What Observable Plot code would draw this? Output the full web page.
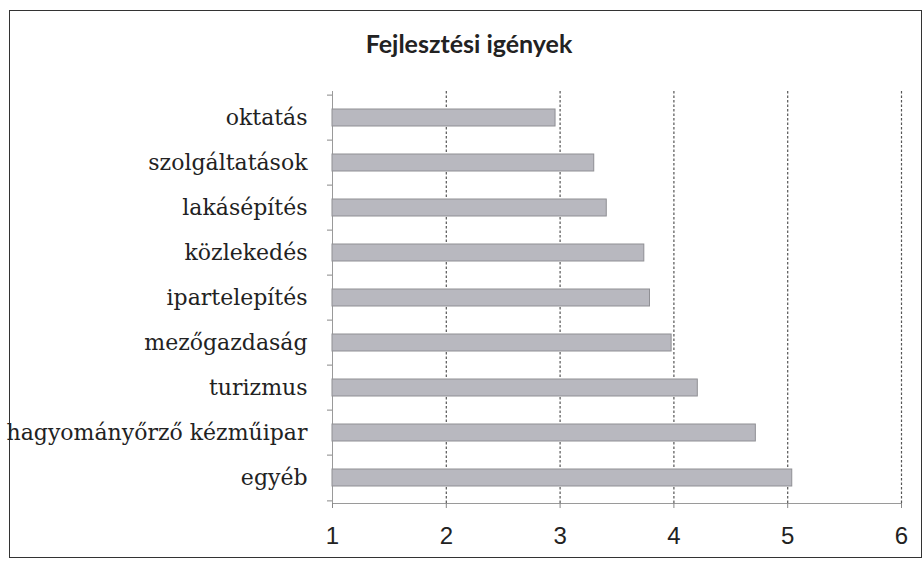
<!DOCTYPE html>
<html><head><meta charset="utf-8">
<script src="https://cdn.jsdelivr.net/npm/d3@7"></script>
<script src="https://cdn.jsdelivr.net/npm/@observablehq/plot@0.6"></script>
<style>
body{margin:0;background:#fff;}
#wrap{position:relative;width:923px;height:567px;overflow:hidden;background:#fff;}
#frame{position:absolute;left:9px;top:10px;width:913px;height:548px;border:1.5px solid #333;box-sizing:border-box;}
#title{position:absolute;left:0;width:938px;top:28px;text-align:center;font-family:Lato,"Open Sans",sans-serif;font-weight:bold;font-size:25px;color:#222;}
#chart{position:absolute;left:0;top:0;}
#chart g[aria-label="x-axis tick label"], #chart g[aria-label="x-axis tick label"] text{font-family:"Liberation Sans",sans-serif !important;font-size:24px !important;}
#chart g[aria-label="y-axis tick label"], #chart g[aria-label="y-axis tick label"] text{font-family:"DejaVu Serif",serif !important;font-size:22px !important;}
</style></head>
<body>
<div id="wrap">
  <div id="frame"></div>
  <div id="title">Fejlesztési igények</div>
  <div id="chart"></div>
</div>
<script>
const categories = ["oktatás","szolgáltatások","lakásépítés","közlekedés","ipartelepítés","mezőgazdaság","turizmus","hagyományőrző kézműipar","egyéb"];
const values = [2.96, 3.30, 3.41, 3.74, 3.79, 3.98, 4.21, 4.72, 5.04];
const xTicks = [1, 2, 3, 4, 5, 6];
const gridTicks = [2, 3, 4, 5, 6];
const xMin = 1;

const data = categories.map((c, i) => ({cat: c, value: values[i]}));
const mTop = 91, mBottom = 64;
const H = 567;
const step = (H - mTop - mBottom) / categories.length;

const chart = Plot.plot({
  width: 923, height: H,
  marginLeft: 332, marginRight: 22, marginTop: mTop, marginBottom: mBottom,
  style: {background: "transparent"},
  x: {domain: [1, 6], axis: null},
  y: {domain: categories, paddingInner: 0.63, paddingOuter: 0.315, axis: null},
  marks: [
    Plot.ruleX(gridTicks, {stroke: "#555", strokeDasharray: "2.5,2", strokeWidth: 1.2}),
    Plot.ruleX([xMin], {stroke: "#9a9a9a"}),
    Plot.frame({anchor: "bottom", stroke: "#9a9a9a"}),
    Plot.barX(data, {x1: xMin, x2: "value", y: "cat", fill: "#b8b8bf", stroke: "#8f8f94", strokeWidth: 1}),
    Plot.axisX(xTicks, {tickSize: 5, tickPadding: 18, tickFormat: d3.format("d"), stroke: "#888", fill: "#222", label: null}),
    Plot.axisY(categories, {tickSize: 0, tickPadding: 25, fill: "#222", label: null}),
    Plot.axisY(categories, {tickSize: 5, tickFormat: () => "", dy: -step / 2, stroke: "#888", label: null}),
    Plot.axisY([categories[categories.length - 1]], {tickSize: 5, tickFormat: () => "", dy: step / 2, stroke: "#888", label: null})
  ]
});
document.getElementById("chart").appendChild(chart);
</script>
</body></html>
